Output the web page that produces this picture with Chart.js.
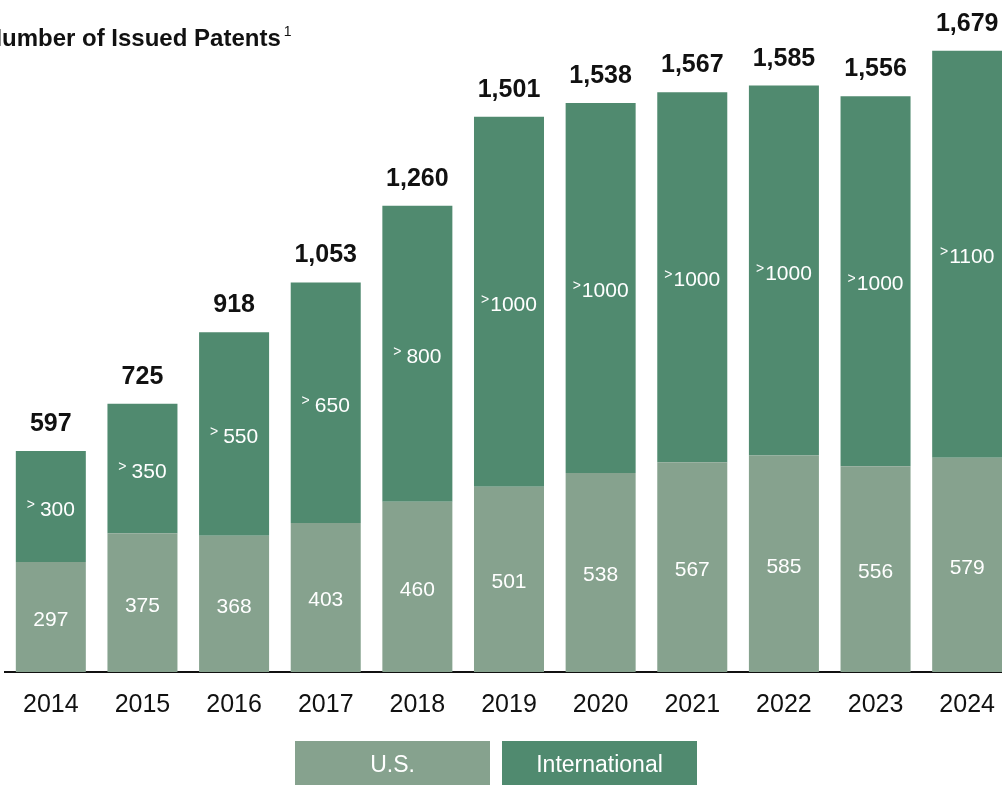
<!DOCTYPE html>
<html>
<head>
<meta charset="utf-8">
<script src="https://cdn.jsdelivr.net/npm/chart.js@4.4.1/dist/chart.umd.min.js"></script>
<style>
  html, body { margin: 0; padding: 0; overflow: hidden; background: #fff; }
  #wrap { position: relative; width: 1020px; height: 785px; }
</style>
</head>
<body>
<div id="wrap"><canvas id="chart" width="1020" height="785"></canvas></div>
<script>
const years = ['2014', '2015', '2016', '2017', '2018', '2019', '2020', '2021', '2022', '2023', '2024'];
const usPatents = [297, 375, 368, 403, 460, 501, 538, 567, 585, 556, 579];
const intlPatents = [300, 350, 550, 650, 800, 1000, 1000, 1000, 1000, 1000, 1100];
const intlLabels = ['>300', '>350', '>550', '>650', '>800', '>1000', '>1000', '>1000', '>1000', '>1000', '>1100'];

const usColor = '#86a28e';
const intlColor = '#508a6f';
const fontFamily = '"Liberation Sans", Arial, sans-serif';

// labels on bars, totals, title and the boxed legend
const decorations = {
    id: 'decorations',
    afterDatasetsDraw(chart) {
        const ctx = chart.ctx;
        const usMeta = chart.getDatasetMeta(0);
        const intlMeta = chart.getDatasetMeta(1);
        ctx.save();
        ctx.textBaseline = 'alphabetic';

        usMeta.data.forEach((bar, i) => {
            ctx.fillStyle = '#fff';
            ctx.font = '21px ' + fontFamily;
            ctx.textAlign = 'center';
            ctx.fillText(String(usPatents[i]), bar.x, (bar.y + bar.base) / 2 + 9);
        });

        intlMeta.data.forEach((bar, i) => {
            const base = (bar.y + bar.base) / 2 + 9;
            const num = intlLabels[i].slice(1);
            const gap = intlPatents[i] < 1000 ? 5 : 1;
            ctx.font = '14px ' + fontFamily;
            const wGt = ctx.measureText('>').width;
            ctx.font = '21px ' + fontFamily;
            const wNum = ctx.measureText(num).width;
            const x0 = bar.x - (wGt + gap + wNum) / 2;
            ctx.fillStyle = '#fff';
            ctx.textAlign = 'left';
            ctx.font = '14px ' + fontFamily;
            ctx.fillText('>', x0, base - 7);
            ctx.font = '21px ' + fontFamily;
            ctx.fillText(num, x0 + wGt + gap, base);

            const total = usPatents[i] + intlPatents[i];
            ctx.fillStyle = '#111';
            ctx.textAlign = 'center';
            ctx.font = 'bold 25px ' + fontFamily;
            ctx.fillText(total.toLocaleString('en-US'), bar.x, bar.y - 20);
        });

        // title (cut at the left edge like the source)
        ctx.fillStyle = '#111';
        ctx.textAlign = 'left';
        ctx.font = 'bold 24px ' + fontFamily;
        const nW = ctx.measureText('N').width;
        ctx.fillText('Number of Issued Patents', 2 - nW, 46);
        const tW = ctx.measureText('Number of Issued Patents').width;
        ctx.font = '14px ' + fontFamily;
        ctx.fillText('1', 2 - nW + tW + 3, 36);

        // legend boxes
        const boxes = [
            { label: 'U.S.', color: usColor, x: 295, w: 195 },
            { label: 'International', color: intlColor, x: 502, w: 195 }
        ];
        boxes.forEach(b => {
            ctx.fillStyle = b.color;
            ctx.fillRect(b.x, 741, b.w, 44);
            ctx.fillStyle = '#fff';
            ctx.textAlign = 'center';
            ctx.font = '23px ' + fontFamily;
            ctx.fillText(b.label, b.x + b.w / 2, 772);
        });
        ctx.restore();
    }
};

new Chart(document.getElementById('chart'), {
    type: 'bar',
    data: {
        labels: years,
        datasets: [
            { label: 'U.S.', data: usPatents, backgroundColor: usColor, borderWidth: 0 },
            { label: 'International', data: intlPatents, backgroundColor: intlColor, borderWidth: 0 }
        ]
    },
    options: {
        responsive: false,
        animation: false,
        devicePixelRatio: 1,
        layout: { padding: { left: 5, right: 7, top: 43, bottom: 0 } },
        categoryPercentage: 1,
        barPercentage: 0.764,
        plugins: { legend: { display: false }, tooltip: { enabled: false } },
        scales: {
            x: {
                stacked: true,
                grid: { display: false, drawTicks: false },
                border: { display: true, color: '#111', width: 2 },
                ticks: { color: '#111', font: { size: 25, family: fontFamily }, padding: 18, maxRotation: 0, autoSkip: false },
                afterFit(axis) { axis.height = 113; }
            },
            y: {
                stacked: true,
                display: false,
                min: 0,
                max: 1700
            }
        }
    },
    plugins: [decorations]
});
</script>
</body>
</html>
